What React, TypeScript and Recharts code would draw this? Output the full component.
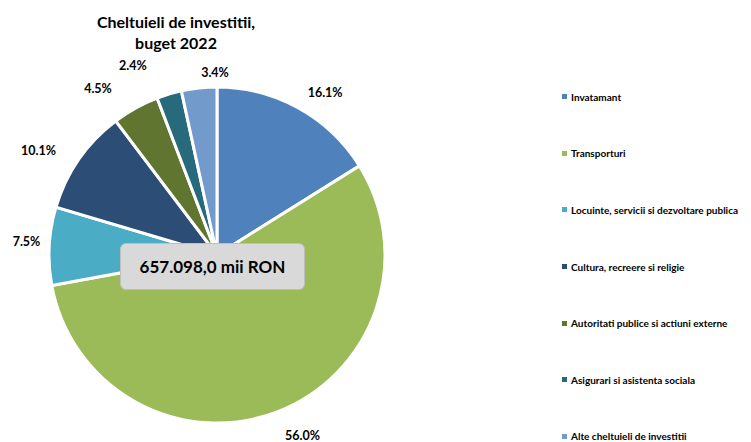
import React from "react";
import { PieChart, Pie, Cell, Legend } from "recharts";

const categories = [
  "Invatamant",
  "Transporturi",
  "Locuinte, servicii si dezvoltare publica",
  "Cultura, recreere si religie",
  "Autoritati publice si actiuni externe",
  "Asigurari si asistenta sociala",
  "Alte cheltuieli de investitii",
];
const shares = [16.1, 56.0, 7.5, 10.1, 4.5, 2.4, 3.4];
const colors = ["#4F81BD", "#9BBB59", "#4BACC6", "#2C4D75", "#5F7530", "#276A7C", "#729ACA"];
const titleLines = ["Cheltuieli de investitii,", "buget 2022"];
const totalLabel = "657.098,0 mii RON";

// layout only: emulate the spreadsheet's "best fit" label placement (degrees / px beyond the rim)
const labelAngleNudge = [-4.7, 4.1, -1.1, 4.3, 6.5, 7.4, -5.5];
const labelGap = [27, 32, 23, 39, 37, 39, 15];

const data = categories.map((name, i) => ({ name, value: shares[i] }));

const FONT = "Lato, 'Open Sans', sans-serif";
const RAD = Math.PI / 180;

const renderLabel = (props: any) => {
  const { cx, cy, midAngle, outerRadius, index } = props;
  const R = outerRadius + labelGap[index];
  const a = midAngle + labelAngleNudge[index];
  const x = cx + R * Math.cos(-a * RAD);
  const y = cy + R * Math.sin(-a * RAD);
  return (
    <text
      x={x}
      y={y}
      textAnchor="middle"
      dominantBaseline="central"
      fontFamily={FONT}
      fontWeight={700}
      fontSize={12.5}
      fill="#000"
    >
      {shares[index].toFixed(1) + "%"}
    </text>
  );
};

const renderLegend = () => (
  <div style={{ fontFamily: FONT, fontWeight: 700, fontSize: 10, color: "#000" }}>
    {categories.map((c, i) => (
      <div key={c} style={{ display: "flex", alignItems: "center", height: 56.6, whiteSpace: "nowrap" }}>
        <span style={{ display: "inline-block", width: 5, height: 5, background: colors[i], marginRight: 4 }} />
        <span>{c}</span>
      </div>
    ))}
  </div>
);

export default function App() {
  return (
    <div style={{ position: "absolute", left: 0, top: 0, width: 751, height: 442, background: "#fff", overflow: "hidden" }}>
      <PieChart
        width={751}
        height={442}
        margin={{ top: 0, right: 0, bottom: 0, left: 0 }}
        style={{ position: "absolute", left: 0, top: 0 }}
      >
        <Pie
          data={data}
          dataKey="value"
          nameKey="name"
          cx={217}
          cy={255}
          outerRadius={168}
          startAngle={90}
          endAngle={-270}
          stroke="#fff"
          strokeWidth={3}
          label={renderLabel}
          labelLine={false}
          isAnimationActive={false}
        >
          {data.map((d, i) => (
            <Cell key={d.name} fill={colors[i]} />
          ))}
        </Pie>
        <Legend
          content={renderLegend}
          layout="vertical"
          align="right"
          verticalAlign="top"
          wrapperStyle={{ position: "absolute", left: 562, top: 68.5, width: 189 }}
        />
      </PieChart>
      <div
        style={{
          position: "absolute",
          left: 76,
          top: 11,
          width: 200,
          textAlign: "center",
          fontFamily: FONT,
          fontWeight: 700,
          fontSize: 16,
          lineHeight: "21px",
          color: "#000",
        }}
      >
        {titleLines.map((t) => (
          <div key={t}>{t}</div>
        ))}
      </div>
      <div
        style={{
          position: "absolute",
          left: 120,
          top: 243,
          width: 185,
          height: 47,
          boxSizing: "border-box",
          background: "#D9D9D9",
          border: "1px solid #BFBFBF",
          borderRadius: 6,
          display: "flex",
          alignItems: "center",
          justifyContent: "center",
          fontFamily: FONT,
          fontWeight: 700,
          fontSize: 17,
          color: "#000",
        }}
      >
        {totalLabel}
      </div>
    </div>
  );
}
